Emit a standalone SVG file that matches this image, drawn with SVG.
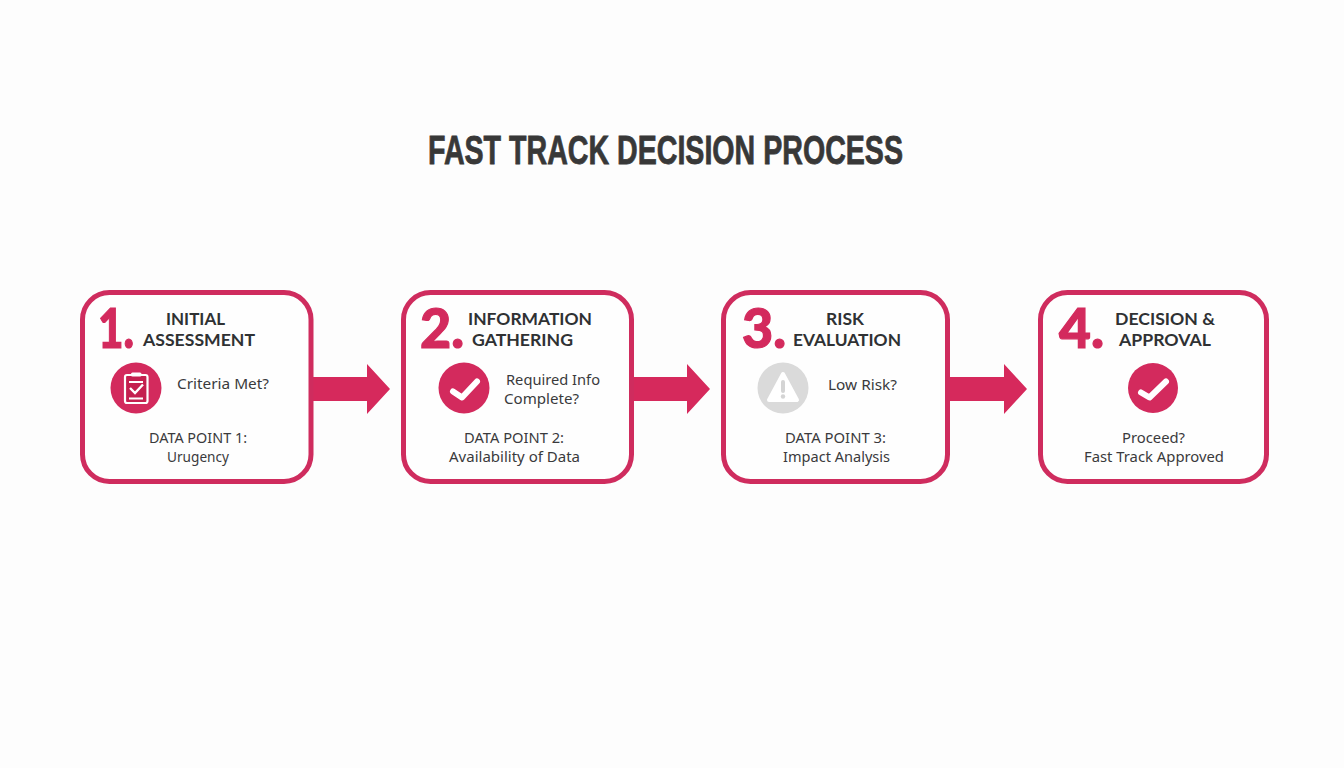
<svg xmlns="http://www.w3.org/2000/svg" width="1344" height="768" viewBox="0 0 1344 768">
<style>
.box{fill:#fefefe;stroke:#cf2c5e;stroke-width:5}
.num{font-family:"Lato","Liberation Sans",sans-serif;font-weight:900;font-size:55px;fill:#d32a5d;stroke:#d32a5d;stroke-width:1.2}
.hd{font-family:"Lato","Liberation Sans",sans-serif;font-weight:700;font-size:17.500px;fill:#2f3133}
.bd{font-family:"Noto Sans","Liberation Sans",sans-serif;font-size:15px;fill:#3a3a3c}
.title{font-family:"Liberation Sans",sans-serif;font-weight:700;font-size:41px;fill:#383838;stroke:#383838;stroke-width:.8}
.ic{fill:#d32a5d}
.chk{fill:none;stroke:#fff;stroke-width:6;stroke-linecap:round;stroke-linejoin:round}
.wl{fill:none;stroke:#fff;stroke-width:1.800}
.arrow{fill:#d6295c}
</style>
<rect width="1344" height="768" fill="#fdfdfd"/>
<text id="title" class="title" x="428" y="164" textLength="475" lengthAdjust="spacingAndGlyphs">FAST TRACK DECISION PROCESS</text>

<g id="connectors">
<path class="arrow" d="M312 377H367V364L390 389L367 414V401H312Z"/>
<path class="arrow" d="M632 377H687V364L710 389L687 414V401H632Z"/>
<path class="arrow" d="M949 377H1004V364L1027 389L1004 414V401H949Z"/>
</g>

<g id="node-1">
<rect class="box" x="82.5" y="292.5" width="228.500" height="189" rx="27"/>
<text class="num" x="98" y="348" textLength="36" lengthAdjust="spacingAndGlyphs">1.</text>
<text class="hd" x="166" y="325" textLength="59" lengthAdjust="spacingAndGlyphs">INITIAL</text>
<text class="hd" x="143" y="346" textLength="112" lengthAdjust="spacingAndGlyphs">ASSESSMENT</text>
<circle class="ic" cx="136" cy="388" r="25.500"/>
<rect x="125" y="375" width="22.500" height="28" rx="2" fill="#c4204f" stroke="#fff" stroke-width="2.200"/>
<rect x="131" y="372.500" width="10.500" height="4" rx="1.500" fill="#fff"/>
<path class="wl" d="M129 382H143M129 398.500H143"/>
<path d="M130 388L135 393L143 384.500" fill="none" stroke="#fff" stroke-width="2.400"/>
<text class="bd" x="177" y="388.500" textLength="92" lengthAdjust="spacingAndGlyphs">Criteria Met?</text>
<text class="bd" x="149" y="443" textLength="98" lengthAdjust="spacingAndGlyphs">DATA POINT 1:</text>
<text class="bd" x="167" y="462" textLength="62" lengthAdjust="spacingAndGlyphs">Urugency</text>
</g>

<g id="node-2">
<rect class="box" x="403.500" y="292.5" width="228" height="189" rx="27"/>
<text class="num" x="420" y="348" textLength="44" lengthAdjust="spacingAndGlyphs">2.</text>
<text class="hd" x="468" y="325" textLength="124" lengthAdjust="spacingAndGlyphs">INFORMATION</text>
<text class="hd" x="472" y="346" textLength="101" lengthAdjust="spacingAndGlyphs">GATHERING</text>
<circle class="ic" cx="464" cy="388" r="25.500"/>
<path class="chk" d="M453 391.500L462 397.500L477 381.500"/>
<text class="bd" x="506" y="385" textLength="94" lengthAdjust="spacingAndGlyphs">Required Info</text>
<text class="bd" x="504" y="404" textLength="75" lengthAdjust="spacingAndGlyphs">Complete?</text>
<text class="bd" x="464" y="443" textLength="100" lengthAdjust="spacingAndGlyphs">DATA POINT 2:</text>
<text class="bd" x="449" y="462" textLength="131" lengthAdjust="spacingAndGlyphs">Availability of Data</text>
</g>

<g id="node-3">
<rect class="box" x="723.500" y="292.5" width="224" height="189" rx="27"/>
<text class="num" x="742" y="348" textLength="44" lengthAdjust="spacingAndGlyphs">3.</text>
<text class="hd" x="826" y="325" textLength="38" lengthAdjust="spacingAndGlyphs">RISK</text>
<text class="hd" x="793" y="346" textLength="108" lengthAdjust="spacingAndGlyphs">EVALUATION</text>
<circle cx="783" cy="388" r="25.500" fill="#dadada"/>
<path d="M783 374L797 400H769Z" fill="#fff" stroke="#fff" stroke-width="4" stroke-linejoin="round"/>
<path d="M783 382V391" stroke="#d4d4d4" stroke-width="4" stroke-linecap="round"/>
<circle cx="783" cy="396.500" r="2.200" fill="#d4d4d4"/>
<text class="bd" x="828" y="390" textLength="69" lengthAdjust="spacingAndGlyphs">Low Risk?</text>
<text class="bd" x="785" y="443" textLength="101" lengthAdjust="spacingAndGlyphs">DATA POINT 3:</text>
<text class="bd" x="783" y="462" textLength="107" lengthAdjust="spacingAndGlyphs">Impact Analysis</text>
</g>

<g id="node-4">
<rect class="box" x="1040.500" y="292.5" width="226" height="189" rx="27"/>
<text class="num" x="1059" y="348" textLength="45" lengthAdjust="spacingAndGlyphs">4.</text>
<text class="hd" x="1115" y="325" textLength="100" lengthAdjust="spacingAndGlyphs">DECISION &amp;</text>
<text class="hd" x="1119" y="346" textLength="92" lengthAdjust="spacingAndGlyphs">APPROVAL</text>
<circle class="ic" cx="1153" cy="388" r="25"/>
<path class="chk" d="M1141 392.500L1149.500 397.500L1166 381.500"/>
<text class="bd" x="1122" y="443" textLength="63" lengthAdjust="spacingAndGlyphs">Proceed?</text>
<text class="bd" x="1084" y="462" textLength="140" lengthAdjust="spacingAndGlyphs">Fast Track Approved</text>
</g>
</svg>
